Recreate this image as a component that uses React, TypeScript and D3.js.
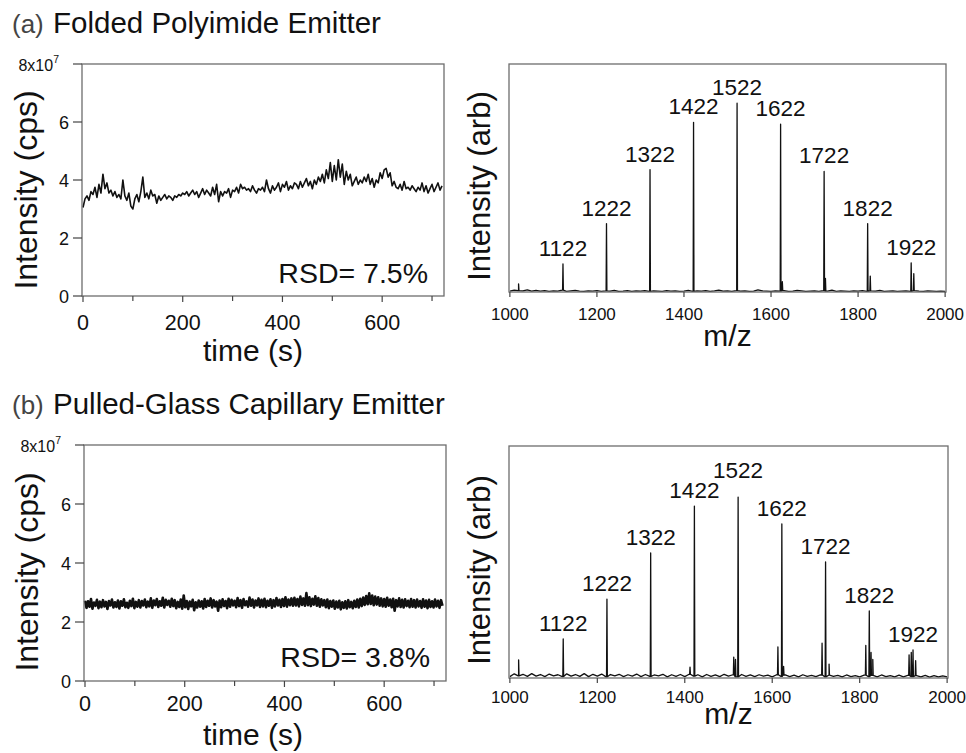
import React from "react";
import * as d3 from "d3";

const FONT = "'Liberation Sans', Arial, Helvetica, sans-serif";

// ---------- axis ticks ----------
const timeTicks = [0, 200, 400, 600];
const timeMinorTicks = [100, 300, 500, 700];
const intensityTicks = [0, 2, 4, 6];
const mzTicks = [1000, 1200, 1400, 1600, 1800, 2000];
const labeledIons = [1122, 1222, 1322, 1422, 1522, 1622, 1722, 1822, 1922];

// ---------- (a) folded polyimide emitter: TIC (x1e7 cps), one value every 4 s ----------
const polyimideStep = 4;
const polyimideSignal = [
  3.05, 3.35, 3.45, 3.30, 3.60, 3.50, 3.75, 3.40, 3.85, 3.55, 4.20,
  3.70, 3.90, 3.55, 3.65, 3.45, 3.60, 3.40, 3.50, 3.35, 4.00,
  3.45, 3.30, 3.55, 3.10, 3.00, 3.35, 3.50, 3.25, 3.60, 4.10,
  3.40, 3.55, 3.35, 3.65, 3.45, 3.50, 3.20, 3.45, 3.30, 3.40,
  3.50, 3.35, 3.45, 3.40, 3.30, 3.45, 3.40, 3.50, 3.45, 3.55,
  3.50, 3.60, 3.45, 3.55, 3.65, 3.50, 3.60, 3.40, 3.55, 3.70,
  3.50, 3.65, 3.55, 3.45, 3.75, 3.50, 3.85, 3.25, 3.60, 3.45,
  3.60, 3.55, 3.70, 3.40, 3.65, 3.60, 3.75, 3.55, 3.85, 3.70,
  3.75, 3.65, 3.70, 3.60, 3.80, 3.65, 3.55, 3.70, 3.65, 3.75,
  3.60, 4.00, 3.70, 3.55, 3.80, 3.65, 3.75, 3.90, 3.60, 3.85,
  3.75, 3.95, 3.65, 3.80, 3.70, 3.90, 3.85, 3.70, 3.95, 3.75,
  3.90, 4.05, 3.80, 3.95, 3.70, 4.00, 3.85, 4.10, 3.95, 4.20,
  3.90, 4.35, 4.05, 4.60, 3.95, 4.50, 4.00, 4.70, 4.10, 4.55,
  3.85, 4.30, 4.00, 4.20, 3.80, 3.95, 4.10, 3.85, 4.00, 3.90,
  4.10, 3.95, 4.20, 3.85, 4.05, 3.75, 4.00, 3.90, 4.25, 4.05,
  4.35, 4.40, 4.10, 4.25, 3.80, 3.95, 3.75, 3.70, 3.85, 3.65,
  3.95, 3.70, 3.75, 3.65, 3.80, 3.70, 3.60, 3.75, 3.65, 3.90,
  3.60, 3.80, 3.55, 3.70, 3.85, 3.60, 3.75, 3.90, 3.65, 3.80,
];

// ---------- (b) pulled-glass capillary emitter: TIC (x1e7 cps), one value every 3 s ----------
const glassStep = 3;
const glassSignal = [
  2.72, 2.48, 2.70, 2.52, 2.78, 2.45, 2.66, 2.55, 2.75, 2.47, 2.69, 2.50, 2.74, 2.53, 2.68, 2.44, 2.71, 2.56, 2.76, 2.49,
  2.67, 2.51, 2.73, 2.46, 2.70, 2.55, 2.77, 2.50, 2.65, 2.48, 2.72, 2.54, 2.79, 2.47, 2.68, 2.52, 2.74, 2.49, 2.71, 2.56,
  2.76, 2.50, 2.69, 2.53, 2.80, 2.48, 2.73, 2.57, 2.78, 2.51, 2.70, 2.55, 2.82, 2.49, 2.75, 2.58, 2.72, 2.52, 2.79, 2.54,
  2.74, 2.47, 2.68, 2.51, 2.76, 2.45, 2.90, 2.50, 2.71, 2.44, 2.69, 2.53, 2.75, 2.40, 2.67, 2.49, 2.73, 2.52, 2.70, 2.46,
  2.78, 2.51, 2.72, 2.55, 2.80, 2.49, 2.74, 2.53, 2.69, 2.38, 2.73, 2.50, 2.77, 2.54, 2.71, 2.47, 2.79, 2.52, 2.75, 2.56,
  2.72, 2.50, 2.81, 2.54, 2.74, 2.48, 2.78, 2.57, 2.70, 2.52, 2.83, 2.55, 2.76, 2.49, 2.73, 2.56, 2.80, 2.51, 2.75, 2.53,
  2.79, 2.50, 2.72, 2.55, 2.77, 2.48, 2.74, 2.53, 2.81, 2.56, 2.75, 2.51, 2.78, 2.54, 2.84, 2.52, 2.76, 2.57, 2.80, 2.55,
  2.82, 2.56, 2.78, 2.53, 2.86, 2.58, 2.80, 2.55, 2.98, 2.57, 2.84, 2.54, 2.79, 2.59, 2.87, 2.55, 2.81, 2.52, 2.77, 2.56,
  2.74, 2.50, 2.76, 2.47, 2.71, 2.52, 2.73, 2.45, 2.69, 2.49, 2.72, 2.43, 2.67, 2.48, 2.70, 2.46, 2.74, 2.50, 2.68, 2.47,
  2.72, 2.51, 2.76, 2.49, 2.79, 2.54, 2.83, 2.58, 2.88, 2.60, 2.97, 2.61, 2.90, 2.57, 2.86, 2.59, 2.84, 2.55, 2.80, 2.53,
  2.78, 2.52, 2.82, 2.55, 2.76, 2.50, 2.79, 2.38, 2.74, 2.53, 2.80, 2.51, 2.75, 2.49, 2.77, 2.54, 2.72, 2.50, 2.78, 2.52,
  2.74, 2.49, 2.76, 2.53, 2.71, 2.48, 2.77, 2.52, 2.73, 2.47, 2.75, 2.51, 2.70, 2.49, 2.76, 2.53, 2.72, 2.48, 2.74, 2.55,
];

// ---------- mass spectra: baseline noise (arb, every 10 m/z from 1000) ----------
const noiseStep = 10;
const polyimideNoise = [
  0.4, 0.8, 0.6, 0.5, 0.9, 0.4, 0.7, 0.4, 0.6, 0.3,
  0.5, 0.4, 0.8, 0.3, 0.5, 0.7, 0.4, 0.3, 0.5, 0.4,
  0.6, 0.3, 0.5, 0.4, 0.7, 0.3, 0.4, 0.6, 0.3, 0.5,
  0.4, 0.6, 0.3, 0.5, 0.4, 0.3, 0.6, 0.4, 0.5, 0.3,
  0.4, 0.7, 0.3, 0.5, 0.4, 0.6, 0.3, 0.5, 0.8, 0.4,
  0.5, 0.3, 0.6, 0.4, 0.5, 0.3, 0.4, 0.9, 0.5, 0.4,
  0.3, 0.5, 0.4, 0.6, 0.3, 0.4, 0.7, 0.5, 0.3, 0.4,
  0.5, 0.3, 0.6, 0.4, 0.8, 0.3, 0.5, 0.4, 0.3, 0.5,
  0.4, 0.6, 0.3, 0.5, 0.4, 0.7, 0.3, 0.4, 0.5, 0.3,
  0.4, 0.5, 0.3, 0.6, 0.4, 0.3, 0.5, 0.4, 0.3, 0.4,
  0.3,
];
const glassNoise = [
  0.6, 1.8, 0.9, 1.6, 0.7, 1.9, 0.8, 1.5, 0.6, 1.7,
  0.9, 1.4, 0.6, 1.8, 0.8, 1.5, 0.7, 1.9, 0.6, 1.6,
  0.8, 1.7, 0.5, 1.5, 0.9, 1.6, 0.6, 1.4, 0.8, 1.7,
  0.6, 1.5, 0.7, 1.3, 0.9, 1.6, 0.5, 1.4, 0.7, 1.5,
  0.6, 1.6, 0.8, 1.4, 0.5, 1.5, 0.7, 1.3, 0.6, 1.6,
  0.8, 1.4, 0.5, 1.5, 0.7, 1.3, 0.6, 1.4, 0.8, 1.2,
  0.5, 1.4, 0.7, 1.3, 0.6, 1.2, 0.5, 1.4, 0.7, 1.1,
  0.6, 1.3, 0.5, 1.2, 0.7, 1.1, 0.5, 1.3, 0.6, 1.0,
  0.5, 1.2, 0.6, 1.1, 0.5, 1.3, 0.6, 1.0, 0.5, 1.2,
  0.5, 1.1, 0.6, 1.0, 0.5, 1.1, 0.4, 1.0, 0.5, 0.9,
  0.5,
];

// ---------- mass spectra: peaks (m/z, intensity % of full scale) ----------
const polyimidePeakMz = [1020, 1122, 1222, 1322, 1422, 1522, 1622, 1626, 1722, 1725, 1822, 1828, 1922, 1928];
const polyimidePeakH = [3.5, 12.3, 30, 53.7, 74.4, 82.8, 73.6, 4.5, 52.9, 6, 30, 7, 12.8, 8];

const glassPeakMz = [1020, 1122, 1222, 1322, 1412, 1422, 1512, 1516, 1522, 1613, 1622, 1626, 1714, 1722, 1730, 1814, 1822, 1826, 1830, 1913, 1918, 1922, 1928];
const glassPeakH = [7.8, 16.8, 34, 53.9, 4.7, 74.1, 9, 8, 78, 13.4, 66.4, 5, 15, 50, 6, 14, 28.9, 11, 8, 10, 11, 12.1, 7.5];

// ---------- components ----------
type Box = { l: number; r: number; t: number; b: number };

function TimePanel(props: {
  signal: number[];
  step: number;
  box: Box;
  rsd: string;
  tickBase: number;
  titleBase: number;
  yTitleX: number;
  yTitleCY: number;
  rsdBase: number;
  lineWidth: number;
}) {
  const { signal, step, box, rsd } = props;
  const x = d3.scaleLinear().domain([-2, 724]).range([box.l, box.r]);
  const y = d3.scaleLinear().domain([0, 8]).range([box.b, box.t]);
  const line = d3
    .line<number>()
    .x((_, i) => x(i * step))
    .y((d) => y(d));
  return (
    <g fontFamily={FONT} fill="#111">
      <path d={line(signal) || ""} fill="none" stroke="#111" strokeWidth={props.lineWidth} strokeLinejoin="round" />
      <rect x={box.l} y={box.t} width={box.r - box.l} height={box.b - box.t} fill="none" stroke="#6d6d6d" strokeWidth={1.3} />
      {timeTicks.map((t) => (
        <g key={"t" + t}>
          <line x1={x(t)} x2={x(t)} y1={box.b} y2={box.b + 6} stroke="#444" strokeWidth={1.2} />
          <text x={x(t)} y={props.tickBase} textAnchor="middle" fontSize={21.5}>{t}</text>
        </g>
      ))}
      {timeMinorTicks.map((t) => (
        <line key={"m" + t} x1={x(t)} x2={x(t)} y1={box.b} y2={box.b + 5} stroke="#444" strokeWidth={1.2} />
      ))}
      {intensityTicks.map((v) => (
        <g key={"y" + v}>
          <line x1={box.l - 9} x2={box.l} y1={y(v)} y2={y(v)} stroke="#444" strokeWidth={1.2} />
          <text x={box.l - 13} y={y(v) + 6.5} textAnchor="end" fontSize={18}>{v}</text>
        </g>
      ))}
      <line x1={box.l - 9} x2={box.l} y1={y(8)} y2={y(8)} stroke="#444" strokeWidth={1.2} />
      <text x={box.l - 23} y={y(8) + 7} textAnchor="end" fontSize={16}>
        8x10<tspan dy={-8} fontSize={10.5}>7</tspan>
      </text>
      <text x={box.r - 16} y={props.rsdBase} textAnchor="end" fontSize={28.5}>{rsd}</text>
      <text x={253} y={props.titleBase} textAnchor="middle" fontSize={30}>time (s)</text>
      <text transform={`translate(${props.yTitleX},${props.yTitleCY}) rotate(-90)`} textAnchor="middle" fontSize={32}>
        Intensity (cps)
      </text>
    </g>
  );
}

function SpectrumPanel(props: {
  noise: number[];
  peakMz: number[];
  peakH: number[];
  box: Box;
  tickBase: number;
  titleBase: number;
  yTitleX: number;
  yTitleCY: number;
}) {
  const { noise, peakMz, peakH, box } = props;
  const x = d3.scaleLinear().domain([998, 2002]).range([box.l, box.r]);
  const y = d3.scaleLinear().domain([0, 100]).range([box.b, box.t]);
  const pts: [number, number][] = noise.map((v, i) => [1000 + i * noiseStep, v]);
  peakMz.forEach((mz, k) => {
    const nb = noise[Math.min(noise.length - 1, Math.round((mz - 1000) / noiseStep))];
    pts.push([mz - 0.9, nb], [mz, peakH[k]], [mz + 0.9, nb]);
  });
  pts.sort((a, b) => a[0] - b[0]);
  const line = d3
    .line<[number, number]>()
    .x((d) => x(d[0]))
    .y((d) => y(d[1]));

  const placed: { cx: number; base: number }[] = [];
  const labels = labeledIons.map((ion) => {
    const h = peakH[peakMz.indexOf(ion)];
    const cx = x(ion);
    let base = y(h) - 8;
    for (const p of placed) {
      if (Math.abs(p.cx - cx) < 50 && Math.abs(p.base - base) < 18) base = p.base - 20;
    }
    placed.push({ cx, base });
    return { ion, cx, base };
  });

  return (
    <g fontFamily={FONT} fill="#111">
      <path d={line(pts) || ""} fill="none" stroke="#111" strokeWidth={1.3} strokeLinejoin="round" />
      <rect x={box.l} y={box.t} width={box.r - box.l} height={box.b - box.t} fill="none" stroke="#6d6d6d" strokeWidth={1.3} />
      {mzTicks.map((m) => (
        <g key={"mz" + m}>
          <line x1={x(m)} x2={x(m)} y1={box.b} y2={box.b + 5} stroke="#444" strokeWidth={1.2} />
          <text x={x(m)} y={props.tickBase} textAnchor="middle" fontSize={17}>{m}</text>
        </g>
      ))}
      {labels.map((l) => (
        <text key={"lab" + l.ion} x={l.cx} y={l.base} textAnchor="middle" fontSize={22.5}>{l.ion}</text>
      ))}
      <text x={(box.l + box.r) / 2} y={props.titleBase} textAnchor="middle" fontSize={30}>m/z</text>
      <text transform={`translate(${props.yTitleX},${props.yTitleCY}) rotate(-90)`} textAnchor="middle" fontSize={31}>
        Intensity (arb)
      </text>
    </g>
  );
}

export default function App() {
  return (
    <svg
      width={966}
      height={753}
      viewBox="0 0 966 753"
      style={{ position: "absolute", left: 0, top: 0, background: "#fff" }}
    >
      <rect x={0} y={0} width={966} height={753} fill="#fff" />
      <g fontFamily={FONT}>
        <text x={12} y={33} fontSize={26} fill="#444">(a)</text>
        <text x={53} y={33} fontSize={29.5} fill="#111">Folded Polyimide Emitter</text>
        <text x={12} y={414} fontSize={26} fill="#444">(b)</text>
        <text x={53} y={414} fontSize={29.5} fill="#111">Pulled-Glass Capillary Emitter</text>
      </g>

      <TimePanel
        signal={polyimideSignal}
        step={polyimideStep}
        box={{ l: 82, r: 444, t: 64, b: 296 }}
        rsd="RSD= 7.5%"
        tickBase={330}
        titleBase={361}
        yTitleX={37}
        yTitleCY={190}
        rsdBase={283}
        lineWidth={1.6}
      />
      <SpectrumPanel
        noise={polyimideNoise}
        peakMz={polyimidePeakMz}
        peakH={polyimidePeakH}
        box={{ l: 509, r: 946, t: 64, b: 292 }}
        tickBase={320}
        titleBase={346}
        yTitleX={490}
        yTitleCY={186}
      />
      <TimePanel
        signal={glassSignal}
        step={glassStep}
        box={{ l: 84, r: 446, t: 445, b: 681 }}
        rsd="RSD= 3.8%"
        tickBase={711}
        titleBase={745}
        yTitleX={38}
        yTitleCY={572}
        rsdBase={667}
        lineWidth={2.6}
      />
      <SpectrumPanel
        noise={glassNoise}
        peakMz={glassPeakMz}
        peakH={glassPeakH}
        box={{ l: 509, r: 948, t: 446, b: 678 }}
        tickBase={703}
        titleBase={724}
        yTitleX={490}
        yTitleCY={570}
      />
    </svg>
  );
}
